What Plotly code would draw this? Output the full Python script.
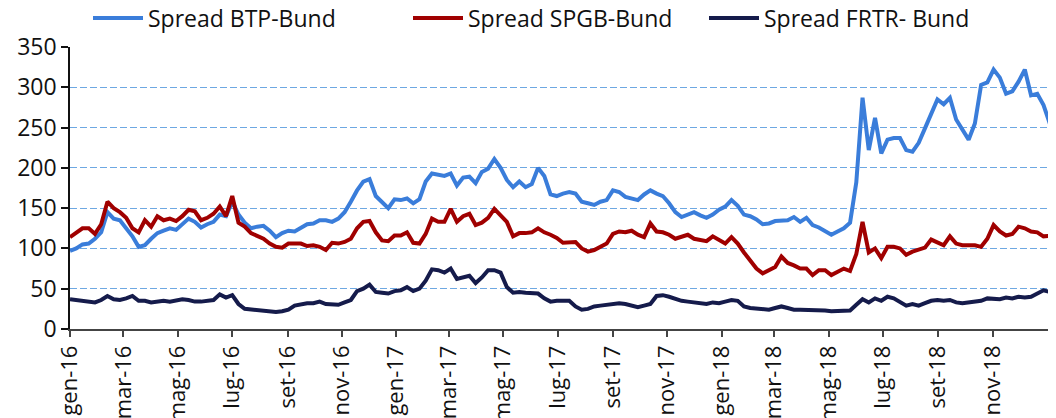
import pandas as pd
import plotly.graph_objects as go

# Weekly observation dates (starting 1 Jan 2016)
dates = pd.date_range("2016-01-01", periods=159, freq="7D")

btp_bund = [
    97, 100, 105, 106, 112, 120, 145, 137, 135, 125,
    115, 102, 104, 112, 119, 122, 125, 123, 130, 137,
    133, 126, 130, 133, 142, 140, 158, 142, 132, 125,
    127, 128, 122, 114, 119, 122, 121, 125, 130, 131,
    135, 135, 133, 137, 145, 158, 172, 183, 186, 165,
    158, 150, 161, 160, 162, 156, 161, 183, 193, 192,
    190, 193, 178, 188, 189, 181, 195, 199, 211, 200,
    185, 176, 183, 176, 180, 200, 190, 167, 165, 168,
    170, 168, 158, 156, 154, 158, 160, 172, 170, 164,
    162, 160, 167, 172, 168, 165, 156, 145, 139, 142,
    145, 141, 138, 142, 148, 152, 160, 153, 142, 140,
    136, 130, 131, 134, 135, 135, 139, 133, 138, 129,
    126, 122, 117, 121, 125, 132, 182, 287, 222, 262,
    218, 235, 237, 237, 222, 220, 231, 249, 268, 285,
    279, 287, 260, 248, 235, 255, 303, 306, 322, 312,
    292, 295, 307, 322, 290, 292, 278, 255, 252,
]

spgb_bund = [
    114, 119, 125, 125, 118, 130, 158, 150, 145, 138,
    125, 120, 135, 127, 140, 135, 137, 134, 140, 148,
    146, 135, 138, 143, 152, 140, 165, 132, 127, 119,
    116, 112, 106, 102, 101, 106, 106, 106, 103, 104,
    102, 98, 107, 106, 108, 112, 125, 133, 134, 120,
    110, 109, 116, 116, 120, 107, 106, 118, 137, 133,
    133, 149, 133, 140, 143, 129, 132, 138, 149, 141,
    133, 115, 119, 119, 120, 125, 120, 117, 113, 107,
    108, 108, 100, 96, 98, 102, 106, 118, 121, 120,
    122, 117, 114, 131, 121, 120, 117, 112, 114, 117,
    112, 111, 109, 115, 110, 106, 114, 106, 95, 85,
    75, 69, 73, 77, 90, 82, 79, 75, 75, 67,
    73, 73, 67, 71, 75, 72, 93, 133, 95, 100,
    88, 102, 102, 100, 92, 96, 98, 101, 111, 108,
    104, 115, 106, 104, 104, 104, 102, 112, 129, 121,
    116, 118, 127, 125, 121, 120, 115, 115, 116,
]

frtr_bund = [
    37, 36, 34, 33, 33, 36, 41, 37, 36, 38,
    41, 35, 35, 33, 34, 35, 34, 35, 37, 36,
    34, 34, 35, 36, 43, 39, 42, 31, 25, 24,
    23, 22, 22, 21, 22, 24, 29, 31, 32, 32,
    34, 31, 30, 30, 33, 36, 47, 50, 55, 46,
    45, 44, 47, 48, 52, 47, 50, 60, 74, 73,
    70, 75, 62, 64, 66, 57, 64, 73, 73, 70,
    52, 45, 46, 45, 44, 44, 38, 34, 35, 35,
    35, 28, 24, 25, 28, 29, 30, 31, 32, 31,
    29, 27, 29, 31, 41, 42, 40, 37, 35, 34,
    33, 31, 31, 33, 32, 34, 36, 35, 28, 26,
    25, 24, 24, 26, 28, 26, 24, 24, 24, 24,
    23, 23, 22, 22, 23, 23, 30, 37, 33, 38,
    35, 40, 38, 34, 29, 31, 29, 32, 35, 36,
    35, 36, 33, 32, 33, 34, 35, 38, 38, 37,
    39, 38, 40, 39, 40, 44, 48, 46, 47,
]

tick_vals = [
    "2016-01-01", "2016-03-01", "2016-05-01", "2016-07-01", "2016-09-01", "2016-11-01",
    "2017-01-01", "2017-03-01", "2017-05-01", "2017-07-01", "2017-09-01", "2017-11-01",
    "2018-01-01", "2018-03-01", "2018-05-01", "2018-07-01", "2018-09-01", "2018-11-01",
]
tick_text = [
    "gen-16", "mar-16", "mag-16", "lug-16", "set-16", "nov-16",
    "gen-17", "mar-17", "mag-17", "lug-17", "set-17", "nov-17",
    "gen-18", "mar-18", "mag-18", "lug-18", "set-18", "nov-18",
]

series_names = ["Spread BTP-Bund", "Spread SPGB-Bund", "Spread FRTR- Bund"]
colors = ["#3A7DDA", "#A00000", "#151B4B"]
FONT = "Open Sans, Lato, sans-serif"

# page body has an 8px margin, so the figure is 1048x410 placed at (8, 8)
W, H = 1048, 410

fig = go.Figure()
for i, (name, vals, col) in enumerate(zip(series_names, [btp_bund, spgb_bund, frtr_bund], colors)):
    fig.add_trace(go.Scatter(
        x=dates, y=vals, mode="lines", name=name,
        line=dict(color=col, width=4),
        legend="legend" if i == 0 else f"legend{i+1}",
    ))

legend_common = dict(
    orientation="h", xref="container", yref="container",
    yanchor="middle", y=1 - 10 / H, xanchor="left",
    font=dict(family=FONT, size=23, color="#111111"),
    bgcolor="rgba(0,0,0,0)", itemwidth=50,
)

fig.update_layout(
    width=W, height=H,
    margin=dict(l=62, r=0, t=39, b=89, autoexpand=False),
    paper_bgcolor="white", plot_bgcolor="white",
    font=dict(family=FONT, size=23, color="#111111"),
    showlegend=True,
    legend=dict(legend_common, x=80 / W),
    legend2=dict(legend_common, x=400 / W),
    legend3=dict(legend_common, x=696 / W),
    xaxis=dict(
        type="date",
        range=["2016-01-01", "2019-01-11"],
        tickvals=tick_vals, ticktext=tick_text, tickangle=-90,
        showgrid=False, zeroline=False,
        showline=True, linecolor="#444444", linewidth=1.5,
        ticks="outside", ticklen=6, tickcolor="#444444", tickwidth=1.5,
        tickfont=dict(family=FONT, size=22, color="#111111"),
        automargin=False,
    ),
    yaxis=dict(
        range=[0, 350], dtick=50, tick0=0,
        showgrid=True, gridcolor="#6EA8E2", gridwidth=1.2, griddash="7px,3px",
        zeroline=False,
        showline=True, linecolor="#111111", linewidth=1.5,
        ticks="outside", ticklen=7, tickcolor="#111111", tickwidth=1.5,
        tickfont=dict(family=FONT, size=23, color="#111111"),
        automargin=False,
    ),
)

fig.write_html("out.html")
